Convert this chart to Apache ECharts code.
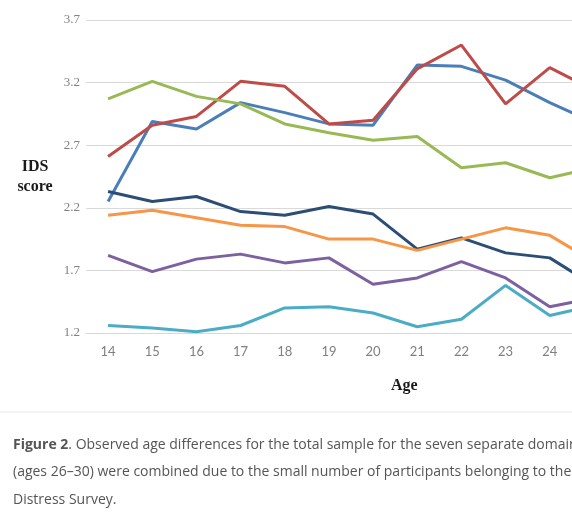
<!DOCTYPE html>
<html>
<head>
<meta charset="utf-8">
<script src="https://cdn.jsdelivr.net/npm/echarts@6/dist/echarts.min.js"></script>
<style>
  html, body { margin: 0; padding: 0; background: #fff; overflow: hidden; }
  #main { width: 680px; height: 524px; }
</style>
</head>
<body>
<div id="main"></div>
<script>
const ages = ['14', '15', '16', '17', '18', '19', '20', '21', '22', '23', '24', '25'];

// IDS score per domain (25 is only partly visible)
const blueLine   = [2.25, 2.89, 2.83, 3.04, 2.96, 2.87, 2.86, 3.34, 3.33, 3.22, 3.04, 2.88];
const redLine    = [2.61, 2.86, 2.93, 3.21, 3.17, 2.87, 2.90, 3.31, 3.50, 3.03, 3.32, 3.14];
const greenLine  = [3.07, 3.21, 3.09, 3.03, 2.87, 2.80, 2.74, 2.77, 2.52, 2.56, 2.44, 2.52];
const navyLine   = [2.33, 2.25, 2.29, 2.17, 2.14, 2.21, 2.15, 1.87, 1.96, 1.84, 1.80, 1.58];
const orangeLine = [2.14, 2.18, 2.12, 2.06, 2.05, 1.95, 1.95, 1.86, 1.95, 2.04, 1.98, 1.77];
const purpleLine = [1.82, 1.69, 1.79, 1.83, 1.76, 1.80, 1.59, 1.64, 1.77, 1.64, 1.41, 1.48];
const tealLine   = [1.26, 1.24, 1.21, 1.26, 1.40, 1.41, 1.36, 1.25, 1.31, 1.58, 1.34, 1.42];

const lines = [
  { data: blueLine, color: '#4a7ebb' },
  { data: redLine, color: '#be4b48' },
  { data: greenLine, color: '#98b954' },
  { data: navyLine, color: '#2c4d75' },
  { data: orangeLine, color: '#f79646' },
  { data: purpleLine, color: '#7d60a0' },
  { data: tealLine, color: '#4bacc6' }
];

const myChart = echarts.init(document.getElementById('main'));

option = {
    animation: false,
    grid: {
        left: 86,
        top: 20,
        width: 530,
        height: 313
    },
    xAxis: {
        type: 'category',
        data: ages,
        boundaryGap: true,
        axisLine: { lineStyle: { color: '#d9d9d9' } },
        axisTick: { show: false },
        axisLabel: {
            color: '#7f7f7f',
            fontFamily: 'Lato',
            fontSize: 13,
            margin: 12
        }
    },
    yAxis: {
        type: 'value',
        min: 1.2,
        max: 3.7,
        interval: 0.5,
        name: 'IDS\nscore',
        nameLocation: 'middle',
        nameRotate: 0,
        nameGap: 51,
        nameTextStyle: {
            fontFamily: 'Liberation Serif',
            fontWeight: 'bold',
            fontSize: 16,
            color: '#1a1a1a',
            lineHeight: 20,
            align: 'center'
        },
        axisLine: { show: false },
        axisTick: { show: false },
        axisLabel: {
            color: '#808080',
            fontFamily: 'Liberation Serif',
            fontSize: 13,
            margin: 6,
            formatter: function (v) { return v.toFixed(1); }
        },
        splitLine: { lineStyle: { color: '#d9d9d9', width: 1 } }
    },
    graphic: [
        {
            type: 'text',
            left: 391,
            top: 378,
            style: {
                text: 'Age',
                font: 'bold 16px "Liberation Serif"',
                fill: '#1a1a1a'
            }
        },
        {
            type: 'line',
            shape: { x1: 0, y1: 412, x2: 680, y2: 412 },
            style: { stroke: '#e8e8e8', lineWidth: 1 }
        },
        {
            type: 'text',
            left: 13,
            top: 431,
            style: {
                text: '{b|Figure 2}. Observed age differences for the total sample for the seven separate domains of the\n' +
                      '(ages 26–30) were combined due to the small number of participants belonging to these\n' +
                      'Distress Survey.',
                font: '14px "Open Sans"',
                fill: '#555555',
                lineHeight: 27.5,
                rich: {
                    b: { font: 'bold 14px "Open Sans"', fill: '#555555' }
                }
            }
        }
    ],
    series: lines.map(function (l) {
        return {
            type: 'line',
            data: l.data,
            symbol: 'none',
            lineStyle: { color: l.color, width: 3 },
            itemStyle: { color: l.color }
        };
    })
};

myChart.setOption(option);
</script>
</body>
</html>
